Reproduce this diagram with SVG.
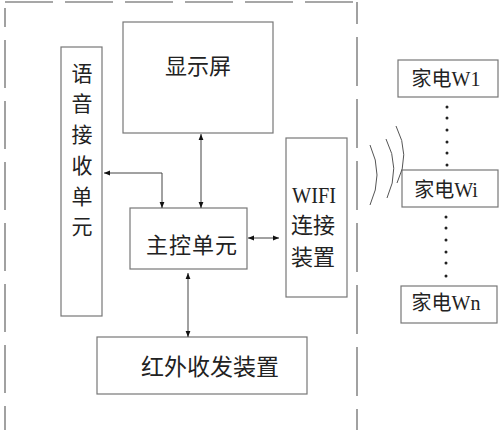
<svg xmlns="http://www.w3.org/2000/svg" width="500" height="430" viewBox="0 0 500 430">
<style>
.box{fill:#fff;stroke:#777;stroke-width:1.2}
.frame{stroke:#8a8a8a;stroke-width:1.6;fill:none}
.t{font-family:"Liberation Serif","Noto Sans CJK SC",serif;fill:#222;text-anchor:middle;dominant-baseline:central}
.c{stroke:#444;stroke-width:1;fill:none}
.wave{stroke:#555;stroke-width:1;fill:none}
.dot{fill:#222}
</style>
<defs>
<marker id="ah" viewBox="0 0 10 10" refX="10" refY="5" markerWidth="9" markerHeight="6" markerUnits="userSpaceOnUse" orient="auto-start-reverse">
<path d="M0,1 L10,5 L0,9 z" fill="#111"/>
</marker>
</defs>
<rect width="500" height="430" fill="#fff"/>
<g id="frame">
<line class="frame" x1="5" y1="2" x2="357" y2="2" stroke-dasharray="48 12"/>
<line class="frame" x1="5" y1="8" x2="5" y2="440" stroke-dasharray="48 13" stroke-dashoffset="29"/>
<line class="frame" x1="357" y1="2" x2="357" y2="440" stroke-dasharray="49 13" stroke-dashoffset="27"/>
</g>
<g id="display">
<rect class="box" x="123" y="22" width="150" height="111"/>
<text class="t" x="198" y="66" font-size="22">显示屏</text>
</g>
<g id="voice">
<rect class="box" x="61" y="47" width="41" height="269"/>
<text class="t" x="82" font-size="21"><tspan x="82" y="74">语</tspan><tspan x="82" y="104">音</tspan><tspan x="82" y="135">接</tspan><tspan x="82" y="166">收</tspan><tspan x="82" y="197">单</tspan><tspan x="82" y="227">元</tspan></text>
</g>
<g id="main">
<rect class="box" x="130" y="208" width="117" height="61"/>
<text class="t" x="192" y="245" font-size="22" letter-spacing="1">主控单元</text>
</g>
<g id="wifi">
<rect class="box" x="286" y="138" width="61" height="159"/>
<text class="t" x="314" y="195" font-size="24" textLength="44" lengthAdjust="spacingAndGlyphs">WIFI</text>
<text class="t" x="313" y="225" font-size="22">连接</text>
<text class="t" x="313" y="257" font-size="22">装置</text>
</g>
<g id="ir">
<rect class="box" x="97" y="337" width="210" height="57"/>
<text class="t" x="210" y="367" font-size="23">红外收发装置</text>
</g>
<g id="w1">
<rect class="box" x="398" y="60" width="100" height="37"/>
<text class="t" x="446" y="79" font-size="20">家电W1</text>
</g>
<g id="wi">
<rect class="box" x="402" y="170" width="96" height="37"/>
<text class="t" x="446" y="190" font-size="20">家电Wi</text>
</g>
<g id="wn">
<rect class="box" x="401" y="286" width="96" height="37"/>
<text class="t" x="446" y="303" font-size="20">家电Wn</text>
</g>
<g id="dots">
<circle class="dot" cx="447" cy="107" r="1.5"/>
<circle class="dot" cx="447" cy="118" r="1.5"/>
<circle class="dot" cx="447" cy="130" r="1.5"/>
<circle class="dot" cx="447" cy="142" r="1.5"/>
<circle class="dot" cx="447" cy="153" r="1.5"/>
<circle class="dot" cx="447" cy="165" r="1.5"/>
<circle class="dot" cx="446" cy="217" r="1.5"/>
<circle class="dot" cx="446" cy="228" r="1.5"/>
<circle class="dot" cx="446" cy="240" r="1.5"/>
<circle class="dot" cx="446" cy="252" r="1.5"/>
<circle class="dot" cx="446" cy="263" r="1.5"/>
<circle class="dot" cx="446" cy="276" r="1.5"/>
</g>
<g id="waves">
<path class="wave" d="M370,145 Q384,175 370,205"/>
<path class="wave" d="M386,139 Q401,168 387,198"/>
<path class="wave" d="M396,126 Q411,155 397,183"/>
</g>
<g id="connectors">
<line class="c" x1="201" y1="134" x2="201" y2="208" marker-start="url(#ah)" marker-end="url(#ah)"/>
<polyline class="c" points="104,173 162,173 162,208" marker-start="url(#ah)" marker-end="url(#ah)"/>
<line class="c" x1="248" y1="238" x2="279" y2="238" marker-start="url(#ah)" marker-end="url(#ah)"/>
<line class="c" x1="188" y1="273" x2="188" y2="337" marker-start="url(#ah)" marker-end="url(#ah)"/>
</g>
</svg>
